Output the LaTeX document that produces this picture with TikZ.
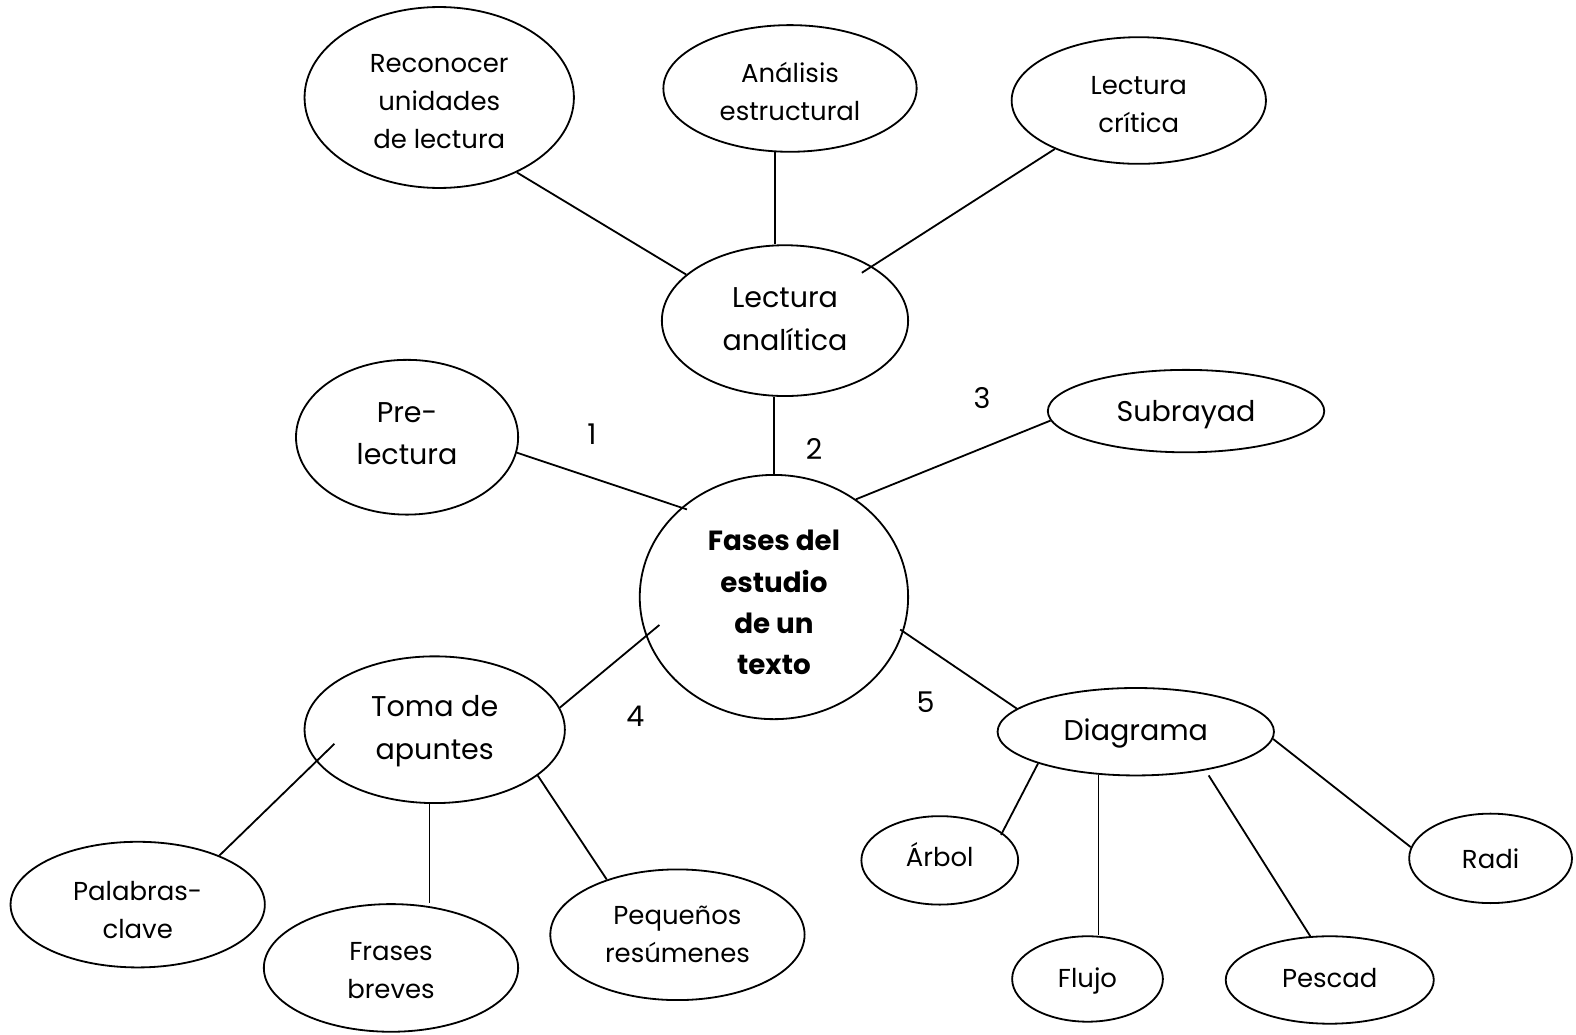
\documentclass[tikz,border=0pt]{standalone}
\usepackage{fontspec}
\setmainfont{Poppins}
\usetikzlibrary{shapes.geometric}
\begin{document}
\begin{tikzpicture}[x=0.5pt,y=-0.5pt,
  el/.style={ellipse,draw,line width=0.9pt,inner sep=0pt},
  txt/.style={align=center,inner sep=0pt},
  big/.style={txt,font=\fontsize{14.2}{21}\selectfont},
  small/.style={txt,font=\fontsize{12.9}{19}\selectfont},
  bold/.style={txt,font=\fontsize{13.8}{20.5}\selectfont\bfseries},
  conn/.style={line width=0.9pt}]
\useasboundingbox (0,0) rectangle (1568,1029);
\fill[white] (0,0) rectangle (1568,1029);
% ellipses
\node[el,minimum width=134pt,minimum height=90pt] (rec) at (437,97) {};
\node[el,minimum width=126pt,minimum height=63pt] (an) at (786,88) {};
\node[el,minimum width=126.5pt,minimum height=63pt] (cr) at (1133,100) {};
\node[el,minimum width=122.5pt,minimum height=75pt] (la) at (781,319) {};
\node[el,minimum width=110.5pt,minimum height=77pt] (pre) at (405,435) {};
\node[el,minimum width=137.5pt,minimum height=41pt] (sub) at (1180,409) {};
\node[el,minimum width=133.5pt,minimum height=121.5pt] (fa) at (770,594) {};
\node[el,minimum width=129.5pt,minimum height=73pt] (toma) at (432.5,726) {};
\node[el,minimum width=137.5pt,minimum height=43.5pt] (dia) at (1130,728) {};
\node[el,minimum width=126.5pt,minimum height=62.5pt] (pal) at (137,900) {};
\node[el,minimum width=126.5pt,minimum height=63.5pt] (fra) at (389,963) {};
\node[el,minimum width=126.5pt,minimum height=65pt] (peq) at (674,930) {};
\node[el,minimum width=78pt,minimum height=44pt] (arb) at (935,856) {};
\node[el,minimum width=75pt,minimum height=42.5pt] (flu) at (1082,974) {};
\node[el,minimum width=103.5pt,minimum height=43.5pt] (pes) at (1323,975) {};
\node[el,minimum width=81pt,minimum height=44.5pt] (rad) at (1483,854) {};
% texts
\node[small] (recT) at ([yshift=-2pt]rec) {Reconocer\\unidades\\de lectura};
\node[small] (anT) at ([yshift=-1.5pt]an) {Análisis\\estructural};
\node[small] (crT) at ([yshift=-2pt]cr) {Lectura\\crítica};
\node[big] (laT) at ([yshift=0.75pt]la) {Lectura\\analítica};
\node[big] (preT) at ([yshift=1.75pt]pre) {Pre-\\lectura};
\node[big] (subT) at ([yshift=-2pt]sub) {Subrayad};
\node[bold] (faT) at ([yshift=-2.75pt]fa) {Fases del\\estudio\\de un\\texto};
\node[big] (tomaT) at ([yshift=-0.75pt]toma) {Toma de\\apuntes};
\node[big] (diaT) at ([yshift=-1pt]dia) {Diagrama};
\node[small] (palT) at ([yshift=-2.5pt]pal) {Palabras-\\clave};
\node[small] (fraT) at ([yshift=-1.5pt]fra) {Frases\\breves};
\node[small] (peqT) at (peq) {Pequeños\\resúmenes};
\node[small] (arbT) at ([yshift=3pt]arb) {Árbol};
\node[small] (fluT) at ([yshift=-1pt]flu) {Flujo};
\node[small] (pesT) at ([yshift=1pt]pes) {Pescad};
\node[small] (radT) at (rad) {Radi};
% numbers
\node[big] (n1) at (589,432) {1};
\node[big] (n2) at (810,447) {2};
\node[big] (n3) at (977,396) {3};
\node[big] (n4) at (632,713) {4};
\node[big] (n5) at (921,699) {5};
% connectors
\draw[conn] (rec.-44) -- (la.155);
\draw[conn] (an.-103) -- (an.-103 |- la.north);
\draw[conn,shorten >=-6pt] (cr.-150) -- (la.32);
\draw[conn] (la.-98) -- (la.-98 |- fa.north);
\draw[conn,shorten >=-3pt] (pre.-8) -- (fa.136);
\draw[conn] (sub.-176) -- (fa.50);
\draw[conn,shorten <=-8.75pt] (fa.-163) -- (toma.10);
\draw[conn,shorten <=-2pt] (fa.-15) -- (dia.169);
\draw[conn,shorten <=-12.6pt] (toma.-165.6) -- (pal.31);
\draw[conn] (toma.-94) -- (toma.-94 |- fra.north);
\draw[conn] (toma.-24) -- (peq.142);
\draw[conn,shorten >=-1.3pt] (dia.-162) -- (arb.24);
\draw[conn] (dia.-131) -- (dia.-131 |- flu.north);
\draw[conn,shorten <=3pt] (dia.-29) -- (pes.114);
\draw[conn] (dia.-3) -- (rad.172);
\end{tikzpicture}
\end{document}
